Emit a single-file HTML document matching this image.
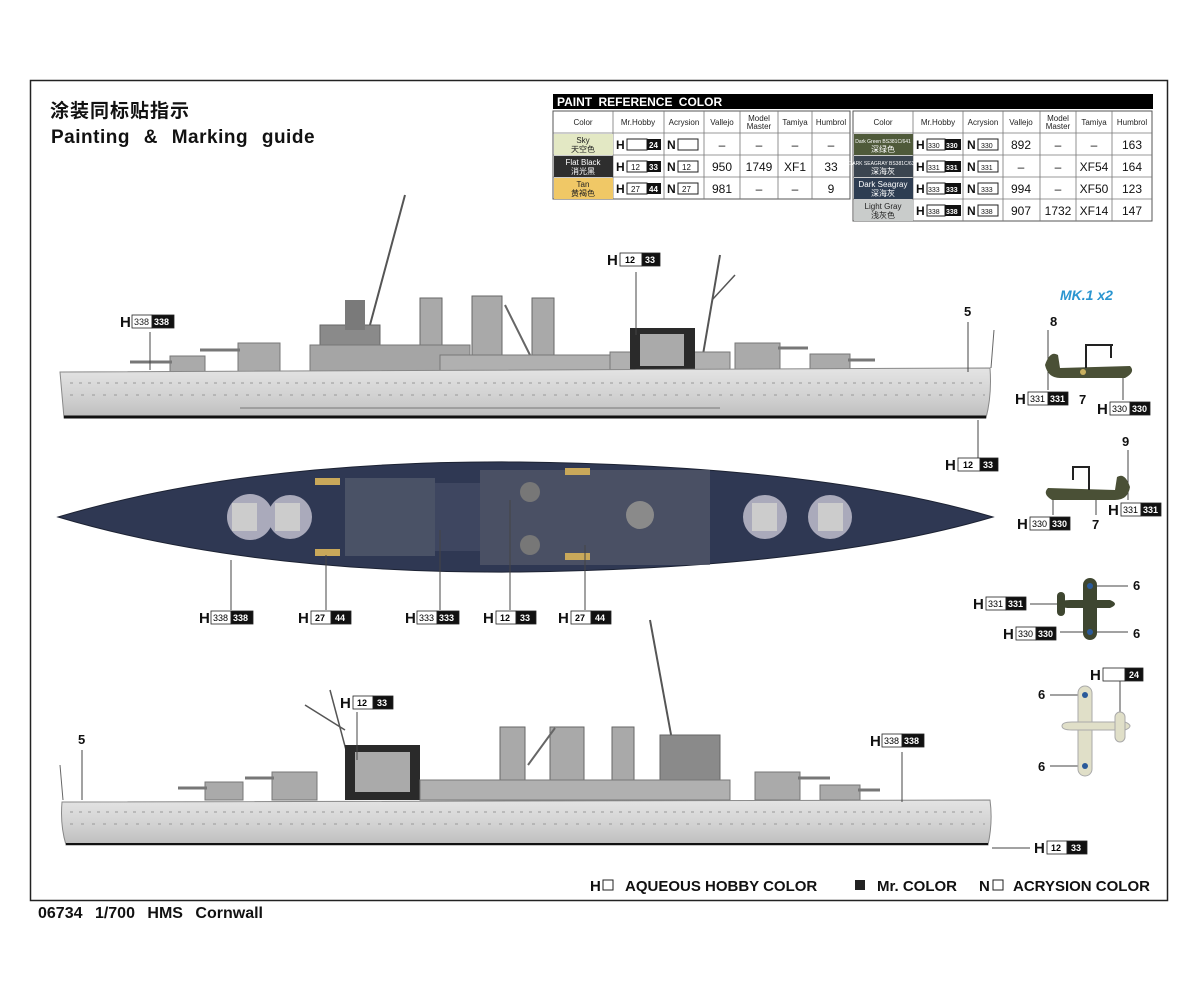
<!DOCTYPE html>
<html><head><meta charset="utf-8"><style>
html,body{margin:0;padding:0;background:#fff;}
svg{display:block;}
text{font-family:"Liberation Sans","Noto Sans CJK SC",sans-serif;}
</style></head><body>
<svg width="1200" height="982" viewBox="0 0 1200 982" xmlns="http://www.w3.org/2000/svg">
<defs>
<linearGradient id="hull" x1="0" y1="0" x2="0" y2="1">
<stop offset="0" stop-color="#e4e4e4"/><stop offset="0.6" stop-color="#d0d0d0"/><stop offset="1" stop-color="#bdbdbd"/>
</linearGradient>
</defs>
<rect x="30.5" y="80.5" width="1137" height="820" fill="none" stroke="#222" stroke-width="1.5"/>
<text x="50" y="117" font-size="19" font-weight="bold" fill="#111" letter-spacing="1">涂装同标贴指示</text>
<text x="51" y="143" font-size="19" font-weight="bold" fill="#111" word-spacing="8" letter-spacing="0.5">Painting &amp; Marking guide</text>

<!-- table -->
<rect x="553" y="94" width="600" height="15" fill="#000"/>
<text x="557" y="106" font-size="12" font-weight="bold" fill="#fff" word-spacing="3">PAINT  REFERENCE COLOR</text>
<g stroke="#555" stroke-width="1" fill="#fff">
<rect x="553" y="111" width="297" height="88"/>
<rect x="853" y="111" width="299" height="110"/>
</g>
<g stroke="#777" stroke-width="0.8">
<line x1="553" y1="133" x2="850" y2="133"/><line x1="553" y1="155" x2="850" y2="155"/><line x1="553" y1="177" x2="850" y2="177"/>
<line x1="853" y1="133" x2="1152" y2="133"/><line x1="853" y1="155" x2="1152" y2="155"/><line x1="853" y1="177" x2="1152" y2="177"/><line x1="853" y1="199" x2="1152" y2="199"/>
<line x1="613" y1="111" x2="613" y2="199"/><line x1="664" y1="111" x2="664" y2="199"/><line x1="704" y1="111" x2="704" y2="199"/><line x1="740" y1="111" x2="740" y2="199"/><line x1="778" y1="111" x2="778" y2="199"/><line x1="812" y1="111" x2="812" y2="199"/>
<line x1="913" y1="111" x2="913" y2="221"/><line x1="963" y1="111" x2="963" y2="221"/><line x1="1003" y1="111" x2="1003" y2="221"/><line x1="1040" y1="111" x2="1040" y2="221"/><line x1="1076" y1="111" x2="1076" y2="221"/><line x1="1112" y1="111" x2="1112" y2="221"/>
</g>
<rect x="554" y="134" width="59" height="21" fill="#e3e8c4"/>
<rect x="554" y="156" width="59" height="21" fill="#2e2e2e"/>
<rect x="554" y="178" width="59" height="21" fill="#f0c866"/>
<rect x="854" y="134" width="59" height="21" fill="#4f5a3a"/>
<rect x="854" y="156" width="59" height="21" fill="#3b4550"/>
<rect x="854" y="178" width="59" height="21" fill="#2e3d52"/>
<rect x="854" y="200" width="59" height="21" fill="#c9cccb"/>
<g font-size="8" text-anchor="middle" fill="#222">
<text x="583" y="125">Color</text><text x="638" y="125">Mr.Hobby</text><text x="684" y="125">Acrysion</text><text x="722" y="125">Vallejo</text><text x="759" y="121">Model</text><text x="759" y="129">Master</text><text x="795" y="125">Tamiya</text><text x="831" y="125">Humbrol</text>
<text x="883" y="125">Color</text><text x="938" y="125">Mr.Hobby</text><text x="983" y="125">Acrysion</text><text x="1021" y="125">Vallejo</text><text x="1058" y="121">Model</text><text x="1058" y="129">Master</text><text x="1094" y="125">Tamiya</text><text x="1132" y="125">Humbrol</text>
<text x="583" y="143">Sky</text><text x="583" y="152">天空色</text>
<text x="583" y="165" fill="#fff">Flat Black</text><text x="583" y="174" fill="#fff">消光黑</text>
<text x="583" y="187">Tan</text><text x="583" y="196">黄褐色</text>
<text x="883" y="143" fill="#fff" font-size="5">Dark Green BS381C/641</text><text x="883" y="152" fill="#fff">深绿色</text>
<text x="883" y="165" fill="#fff" font-size="5">DARK SEAGRAY BS381C/638</text><text x="883" y="174" fill="#fff">深海灰</text>
<text x="883" y="187" fill="#fff">Dark Seagray</text><text x="883" y="196" fill="#fff">深海灰</text>
<text x="883" y="209">Light Gray</text><text x="883" y="218">浅灰色</text>
</g>
<g font-size="12" text-anchor="middle" fill="#111">
<text x="722" y="149">–</text><text x="759" y="149">–</text><text x="795" y="149">–</text><text x="831" y="149">–</text>
<text x="722" y="171">950</text><text x="759" y="171">1749</text><text x="795" y="171">XF1</text><text x="831" y="171">33</text>
<text x="722" y="193">981</text><text x="759" y="193">–</text><text x="795" y="193">–</text><text x="831" y="193">9</text>
<text x="1021" y="149">892</text><text x="1058" y="149">–</text><text x="1094" y="149">–</text><text x="1132" y="149">163</text>
<text x="1021" y="171">–</text><text x="1058" y="171">–</text><text x="1094" y="171">XF54</text><text x="1132" y="171">164</text>
<text x="1021" y="193">994</text><text x="1058" y="193">–</text><text x="1094" y="193">XF50</text><text x="1132" y="193">123</text>
<text x="1021" y="215">907</text><text x="1058" y="215">1732</text><text x="1094" y="215">XF14</text><text x="1132" y="215">147</text>
</g>
<g font-size="12" font-weight="bold" fill="#111">
<text x="616" y="149">H</text><rect x="627" y="139" width="20" height="11" fill="#fff" stroke="#222"/><rect x="647" y="139" width="14" height="11" fill="#111"/><text x="649" y="148" font-size="8" fill="#fff">24</text>
<text x="667" y="149">N</text><rect x="678" y="139" width="20" height="11" fill="#fff" stroke="#222"/>
<text x="616" y="171">H</text><rect x="627" y="161" width="20" height="11" fill="#fff" stroke="#222"/><text x="631" y="170" font-size="8" font-weight="normal">12</text><rect x="647" y="161" width="14" height="11" fill="#111"/><text x="649" y="170" font-size="8" fill="#fff">33</text>
<text x="667" y="171">N</text><rect x="678" y="161" width="20" height="11" fill="#fff" stroke="#222"/><text x="682" y="170" font-size="8" font-weight="normal">12</text>
<text x="616" y="193">H</text><rect x="627" y="183" width="20" height="11" fill="#fff" stroke="#222"/><text x="631" y="192" font-size="8" font-weight="normal">27</text><rect x="647" y="183" width="14" height="11" fill="#111"/><text x="649" y="192" font-size="8" fill="#fff">44</text>
<text x="667" y="193">N</text><rect x="678" y="183" width="20" height="11" fill="#fff" stroke="#222"/><text x="682" y="192" font-size="8" font-weight="normal">27</text>
<text x="916" y="149">H</text><rect x="927" y="139" width="18" height="11" fill="#fff" stroke="#222"/><text x="928" y="148" font-size="7" font-weight="normal">330</text><rect x="945" y="139" width="16" height="11" fill="#111"/><text x="946" y="148" font-size="7" fill="#fff">330</text>
<text x="967" y="149">N</text><rect x="978" y="139" width="20" height="11" fill="#fff" stroke="#222"/><text x="981" y="148" font-size="7" font-weight="normal">330</text>
<text x="916" y="171">H</text><rect x="927" y="161" width="18" height="11" fill="#fff" stroke="#222"/><text x="928" y="170" font-size="7" font-weight="normal">331</text><rect x="945" y="161" width="16" height="11" fill="#111"/><text x="946" y="170" font-size="7" fill="#fff">331</text>
<text x="967" y="171">N</text><rect x="978" y="161" width="20" height="11" fill="#fff" stroke="#222"/><text x="981" y="170" font-size="7" font-weight="normal">331</text>
<text x="916" y="193">H</text><rect x="927" y="183" width="18" height="11" fill="#fff" stroke="#222"/><text x="928" y="192" font-size="7" font-weight="normal">333</text><rect x="945" y="183" width="16" height="11" fill="#111"/><text x="946" y="192" font-size="7" fill="#fff">333</text>
<text x="967" y="193">N</text><rect x="978" y="183" width="20" height="11" fill="#fff" stroke="#222"/><text x="981" y="192" font-size="7" font-weight="normal">333</text>
<text x="916" y="215">H</text><rect x="927" y="205" width="18" height="11" fill="#fff" stroke="#222"/><text x="928" y="214" font-size="7" font-weight="normal">338</text><rect x="945" y="205" width="16" height="11" fill="#111"/><text x="946" y="214" font-size="7" fill="#fff">338</text>
<text x="967" y="215">N</text><rect x="978" y="205" width="20" height="11" fill="#fff" stroke="#222"/><text x="981" y="214" font-size="7" font-weight="normal">338</text>
</g>

<!-- SHIP 1 side view -->
<g>
<line x1="360" y1="362" x2="405" y2="195" stroke="#555" stroke-width="2"/>
<line x1="700" y1="372" x2="720" y2="255" stroke="#555" stroke-width="2"/>
<line x1="712" y1="300" x2="735" y2="275" stroke="#555" stroke-width="1.5"/>
<rect x="420" y="298" width="22" height="74" fill="#a9a9a9" stroke="#666"/>
<rect x="472" y="296" width="30" height="76" fill="#a9a9a9" stroke="#666"/>
<rect x="532" y="298" width="22" height="74" fill="#a9a9a9" stroke="#666"/>
<line x1="505" y1="305" x2="530" y2="355" stroke="#666" stroke-width="2"/>
<rect x="320" y="325" width="60" height="47" fill="#8a8a8a" stroke="#666"/>
<rect x="345" y="300" width="20" height="30" fill="#7a7a7a"/>
<rect x="310" y="345" width="160" height="27" fill="#a5a5a5" stroke="#777"/>
<rect x="440" y="355" width="170" height="17" fill="#b0b0b0" stroke="#777"/>
<rect x="610" y="352" width="120" height="20" fill="#b0b0b0" stroke="#777"/>
<rect x="630" y="328" width="65" height="44" fill="#2a2a2a"/>
<rect x="640" y="334" width="44" height="32" fill="#aaa"/>
<rect x="170" y="356" width="35" height="16" fill="#aaa" stroke="#777"/><line x1="130" y1="362" x2="172" y2="362" stroke="#777" stroke-width="3"/>
<rect x="238" y="343" width="42" height="29" fill="#aaa" stroke="#777"/><line x1="200" y1="350" x2="240" y2="350" stroke="#777" stroke-width="3"/>
<rect x="735" y="343" width="45" height="29" fill="#aaa" stroke="#777"/><line x1="778" y1="348" x2="808" y2="348" stroke="#777" stroke-width="3"/>
<rect x="810" y="354" width="40" height="18" fill="#aaa" stroke="#777"/><line x1="848" y1="360" x2="875" y2="360" stroke="#777" stroke-width="3"/>
<path d="M60,372 L990,368 Q992,395 986,418 L64,418 Z" fill="url(#hull)" stroke="#888"/>
<line x1="64" y1="417" x2="986" y2="417" stroke="#111" stroke-width="3"/>
<line x1="70" y1="383" x2="985" y2="383" stroke="#999" stroke-dasharray="3,6"/>
<line x1="70" y1="395" x2="985" y2="395" stroke="#999" stroke-dasharray="3,8"/>
<line x1="240" y1="408" x2="720" y2="408" stroke="#777"/>
<line x1="991" y1="368" x2="994" y2="330" stroke="#666"/>
</g>

<!-- SHIP 2 top view -->
<g>
<path d="M58,517 Q250,460 520,462 Q820,466 993,517 Q820,568 520,572 Q250,574 58,517 Z" fill="#2f3853" stroke="#1c2233"/>
<rect x="345" y="478" width="90" height="78" fill="#4a5266"/>
<rect x="435" y="483" width="45" height="68" fill="#3e4660"/>
<rect x="480" y="470" width="230" height="95" fill="#555b6c" opacity="0.7"/>
<circle cx="530" cy="492" r="10" fill="#777"/><circle cx="530" cy="545" r="10" fill="#777"/>
<circle cx="640" cy="515" r="14" fill="#8a8a8a"/>
<circle cx="250" cy="517" r="23" fill="#aab" /><rect x="232" y="503" width="25" height="28" fill="#ccc"/>
<circle cx="290" cy="517" r="22" fill="#aab"/><rect x="275" y="503" width="25" height="28" fill="#ccc"/>
<circle cx="765" cy="517" r="22" fill="#aab"/><rect x="752" y="503" width="25" height="28" fill="#ccc"/>
<circle cx="830" cy="517" r="22" fill="#aab"/><rect x="818" y="503" width="25" height="28" fill="#ccc"/>
<rect x="315" y="478" width="25" height="7" fill="#c9a85a"/><rect x="315" y="549" width="25" height="7" fill="#c9a85a"/>
<rect x="565" y="468" width="25" height="7" fill="#c9a85a"/><rect x="565" y="553" width="25" height="7" fill="#c9a85a"/>
</g>

<!-- SHIP 3 side view -->
<g>
<line x1="330" y1="690" x2="358" y2="795" stroke="#555" stroke-width="1.5"/>
<line x1="305" y1="705" x2="345" y2="730" stroke="#555" stroke-width="1.5"/>
<line x1="650" y1="620" x2="672" y2="740" stroke="#555" stroke-width="2"/>
<rect x="500" y="727" width="25" height="73" fill="#a9a9a9" stroke="#666"/>
<rect x="550" y="727" width="34" height="73" fill="#a9a9a9" stroke="#666"/>
<rect x="612" y="727" width="22" height="73" fill="#a9a9a9" stroke="#666"/>
<line x1="528" y1="765" x2="555" y2="728" stroke="#666" stroke-width="2"/>
<rect x="345" y="745" width="75" height="55" fill="#2a2a2a"/>
<rect x="355" y="752" width="55" height="40" fill="#aaa"/>
<rect x="660" y="735" width="60" height="65" fill="#8a8a8a" stroke="#666"/>
<rect x="420" y="780" width="310" height="20" fill="#b0b0b0" stroke="#777"/>
<rect x="205" y="782" width="38" height="18" fill="#aaa" stroke="#777"/><line x1="178" y1="788" x2="207" y2="788" stroke="#777" stroke-width="3"/>
<rect x="272" y="772" width="45" height="28" fill="#aaa" stroke="#777"/><line x1="245" y1="778" x2="274" y2="778" stroke="#777" stroke-width="3"/>
<rect x="755" y="772" width="45" height="28" fill="#aaa" stroke="#777"/><line x1="798" y1="778" x2="830" y2="778" stroke="#777" stroke-width="3"/>
<rect x="820" y="785" width="40" height="15" fill="#aaa" stroke="#777"/><line x1="858" y1="790" x2="880" y2="790" stroke="#777" stroke-width="3"/>
<path d="M62,802 L990,800 Q993,822 988,845 L66,845 Q60,825 62,802 Z" fill="url(#hull)" stroke="#888"/>
<line x1="66" y1="844" x2="988" y2="844" stroke="#111" stroke-width="2"/>
<line x1="70" y1="812" x2="985" y2="812" stroke="#999" stroke-dasharray="3,6"/>
<line x1="70" y1="824" x2="985" y2="824" stroke="#999" stroke-dasharray="3,8"/>
<line x1="63" y1="800" x2="60" y2="765" stroke="#666"/>
</g>

<!-- leader lines -->
<g stroke="#444" stroke-width="1" fill="none">
<line x1="150" y1="332" x2="150" y2="370"/>
<line x1="636" y1="272" x2="636" y2="335"/>
<line x1="968" y1="322" x2="968" y2="372"/>
<line x1="978" y1="420" x2="978" y2="458"/>
<line x1="231" y1="560" x2="231" y2="610"/><line x1="326" y1="555" x2="326" y2="610"/><line x1="440" y1="530" x2="440" y2="610"/><line x1="510" y1="500" x2="510" y2="610"/><line x1="585" y1="545" x2="585" y2="610"/>
<line x1="82" y1="750" x2="82" y2="800"/><line x1="357" y1="712" x2="357" y2="760"/><line x1="902" y1="752" x2="902" y2="802"/>
<line x1="992" y1="848" x2="1030" y2="848"/>
</g>

<!-- labels -->
<g font-weight="bold" fill="#111">
<g font-size="15">
<text x="120" y="327">H</text><text x="607" y="265">H</text><text x="945" y="470">H</text>
<text x="199" y="623">H</text><text x="298" y="623">H</text><text x="405" y="623">H</text><text x="483" y="623">H</text><text x="558" y="623">H</text>
<text x="340" y="708">H</text><text x="870" y="746">H</text><text x="1034" y="853">H</text>
<text x="1015" y="404">H</text><text x="1097" y="414">H</text><text x="1017" y="529">H</text><text x="1108" y="515">H</text><text x="973" y="609">H</text><text x="1003" y="639">H</text><text x="1090" y="680">H</text>
</g>
<text x="964" y="316" font-size="13">5</text><text x="78" y="744" font-size="13">5</text>
<text x="1050" y="326" font-size="13">8</text><text x="1079" y="404" font-size="13">7</text>
<text x="1122" y="446" font-size="13">9</text><text x="1092" y="529" font-size="13">7</text>
<text x="1133" y="590" font-size="13">6</text><text x="1133" y="638" font-size="13">6</text>
<text x="1038" y="699" font-size="13">6</text><text x="1038" y="771" font-size="13">6</text>
<text x="1060" y="300" font-size="14" font-style="italic" fill="#2a95d0">MK.1 x2</text>
</g>
<g font-size="9" stroke="#222" stroke-width="0.8">
<rect x="132" y="315" width="20" height="13" fill="#fff"/><rect x="152" y="315" width="22" height="13" fill="#111"/>
<rect x="620" y="253" width="22" height="13" fill="#fff"/><rect x="642" y="253" width="18" height="13" fill="#111"/>
<rect x="958" y="458" width="22" height="13" fill="#fff"/><rect x="980" y="458" width="18" height="13" fill="#111"/>
<rect x="211" y="611" width="20" height="13" fill="#fff"/><rect x="231" y="611" width="22" height="13" fill="#111"/>
<rect x="311" y="611" width="20" height="13" fill="#fff"/><rect x="331" y="611" width="20" height="13" fill="#111"/>
<rect x="417" y="611" width="20" height="13" fill="#fff"/><rect x="437" y="611" width="22" height="13" fill="#111"/>
<rect x="496" y="611" width="20" height="13" fill="#fff"/><rect x="516" y="611" width="20" height="13" fill="#111"/>
<rect x="571" y="611" width="20" height="13" fill="#fff"/><rect x="591" y="611" width="20" height="13" fill="#111"/>
<rect x="353" y="696" width="20" height="13" fill="#fff"/><rect x="373" y="696" width="20" height="13" fill="#111"/>
<rect x="882" y="734" width="20" height="13" fill="#fff"/><rect x="902" y="734" width="22" height="13" fill="#111"/>
<rect x="1047" y="841" width="20" height="13" fill="#fff"/><rect x="1067" y="841" width="20" height="13" fill="#111"/>
<rect x="1028" y="392" width="20" height="13" fill="#fff"/><rect x="1048" y="392" width="20" height="13" fill="#111"/>
<rect x="1110" y="402" width="20" height="13" fill="#fff"/><rect x="1130" y="402" width="20" height="13" fill="#111"/>
<rect x="1030" y="517" width="20" height="13" fill="#fff"/><rect x="1050" y="517" width="20" height="13" fill="#111"/>
<rect x="1121" y="503" width="20" height="13" fill="#fff"/><rect x="1141" y="503" width="20" height="13" fill="#111"/>
<rect x="986" y="597" width="20" height="13" fill="#fff"/><rect x="1006" y="597" width="20" height="13" fill="#111"/>
<rect x="1016" y="627" width="20" height="13" fill="#fff"/><rect x="1036" y="627" width="20" height="13" fill="#111"/>
<rect x="1103" y="668" width="22" height="13" fill="#fff"/><rect x="1125" y="668" width="18" height="13" fill="#111"/>
</g>
<g font-size="9" font-weight="bold">
<text x="134" y="325" fill="#222" font-weight="normal">338</text><text x="154" y="325" fill="#fff">338</text>
<text x="625" y="263">12</text><text x="645" y="263" fill="#fff">33</text>
<text x="963" y="468">12</text><text x="983" y="468" fill="#fff">33</text>
<text x="213" y="621" font-weight="normal">338</text><text x="233" y="621" fill="#fff">338</text>
<text x="315" y="621">27</text><text x="335" y="621" fill="#fff">44</text>
<text x="419" y="621" font-weight="normal">333</text><text x="439" y="621" fill="#fff">333</text>
<text x="500" y="621">12</text><text x="520" y="621" fill="#fff">33</text>
<text x="575" y="621">27</text><text x="595" y="621" fill="#fff">44</text>
<text x="357" y="706">12</text><text x="377" y="706" fill="#fff">33</text>
<text x="884" y="744" font-weight="normal">338</text><text x="904" y="744" fill="#fff">338</text>
<text x="1051" y="851">12</text><text x="1071" y="851" fill="#fff">33</text>
<text x="1030" y="402" font-weight="normal">331</text><text x="1050" y="402" fill="#fff">331</text>
<text x="1112" y="412" font-weight="normal">330</text><text x="1132" y="412" fill="#fff">330</text>
<text x="1032" y="527" font-weight="normal">330</text><text x="1052" y="527" fill="#fff">330</text>
<text x="1123" y="513" font-weight="normal">331</text><text x="1143" y="513" fill="#fff">331</text>
<text x="988" y="607" font-weight="normal">331</text><text x="1008" y="607" fill="#fff">331</text>
<text x="1018" y="637" font-weight="normal">330</text><text x="1038" y="637" fill="#fff">330</text>
<text x="1129" y="678" fill="#fff">24</text>
</g>

<!-- planes -->
<g stroke="#444" stroke-width="1" fill="none">
<line x1="1048" y1="330" x2="1048" y2="390"/><line x1="1123" y1="375" x2="1123" y2="400"/>
<line x1="1128" y1="450" x2="1128" y2="500"/><line x1="1053" y1="490" x2="1053" y2="515"/><line x1="1096" y1="500" x2="1096" y2="515"/>
<line x1="1030" y1="604" x2="1060" y2="604"/><line x1="1060" y1="632" x2="1128" y2="632"/><line x1="1095" y1="586" x2="1128" y2="586"/>
<line x1="1050" y1="695" x2="1083" y2="695"/><line x1="1050" y1="766" x2="1083" y2="766"/><line x1="1120" y1="681" x2="1120" y2="718"/>
</g>
<g>
<path d="M1045,365 Q1050,350 1058,355 L1060,368 L1130,366 Q1136,372 1125,378 L1060,378 Q1048,378 1045,365 Z" fill="#4a5036"/>
<rect x="1085" y="344" width="2" height="24" fill="#222"/><rect x="1085" y="344" width="28" height="2" fill="#222"/><rect x="1110" y="344" width="2" height="14" fill="#222"/>
<circle cx="1083" cy="372" r="3" fill="#c9b060"/>
<path d="M1130,487 Q1125,472 1117,477 L1115,490 L1048,488 Q1042,494 1052,500 L1115,500 Q1128,500 1130,487 Z" fill="#4a5036"/>
<rect x="1088" y="466" width="2" height="24" fill="#222"/><rect x="1072" y="466" width="18" height="2" fill="#222"/><rect x="1072" y="466" width="2" height="14" fill="#222"/>
<rect x="1083" y="578" width="14" height="62" rx="7" fill="#3e4630"/>
<path d="M1060,604 Q1060,600 1070,600 L1110,600 Q1120,604 1110,608 L1070,608 Q1060,608 1060,604 Z" fill="#3e4630"/>
<rect x="1057" y="592" width="8" height="24" rx="4" fill="#3e4630"/>
<circle cx="1090" cy="586" r="3" fill="#2a5a9a"/><circle cx="1090" cy="632" r="3" fill="#2a5a9a"/>
<rect x="1078" y="686" width="14" height="90" rx="7" fill="#e0dfc8" stroke="#aaa"/>
<path d="M1062,726 Q1062,722 1072,722 L1125,722 Q1135,726 1125,730 L1072,730 Q1062,730 1062,726 Z" fill="#e0dfc8" stroke="#aaa"/>
<rect x="1115" y="712" width="10" height="30" rx="5" fill="#e0dfc8" stroke="#aaa"/>
<circle cx="1085" cy="695" r="3" fill="#2a5a9a"/><circle cx="1085" cy="766" r="3" fill="#2a5a9a"/>
</g>

<!-- legend -->
<g font-size="15" font-weight="bold" fill="#111">
<text x="590" y="891">H</text><rect x="603" y="880" width="10" height="10" fill="#fff" stroke="#222"/><text x="625" y="891">AQUEOUS HOBBY COLOR</text>
<rect x="855" y="880" width="10" height="10" fill="#222"/><text x="877" y="891">Mr. COLOR</text>
<text x="979" y="891">N</text><rect x="993" y="880" width="10" height="10" fill="#fff" stroke="#222"/><text x="1013" y="891">ACRYSION COLOR</text>
<text x="38" y="918" font-size="16" word-spacing="8">06734 1/700 HMS Cornwall</text>
</g>
</svg>
</body></html>
